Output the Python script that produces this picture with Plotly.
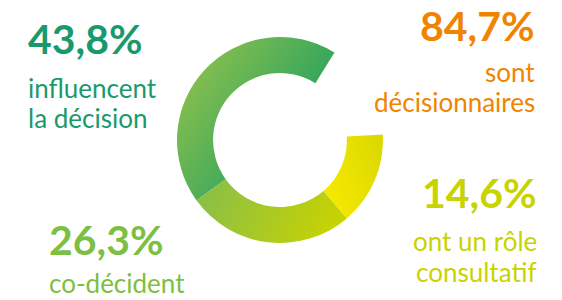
import plotly.graph_objects as go

# ---- data ----
segment_labels = ["ont un rôle consultatif", "co-décident", "influencent la décision", "autres"]
segment_values = [14.6, 26.3, 43.8, 15.3]

big_numbers = ["43,8%", "84,7%", "14,6%", "26,3%"]
captions = [["influencent", "la décision"], ["sont", "décisionnaires"],
            ["ont un rôle", "consultatif"], ["co-décident"]]

# ---- style ----
W, H = 562, 300
slice_colors = ["#ece200", "#a8c72c", "#58b155", "rgba(0,0,0,0)"]
text_colors = ["#199a6c", "#f08400", "#c8d300", "#7dbf42"]
FONT = "Lato, 'Open Sans', sans-serif"

cx, cy, R = 280, 140, 103

fig = go.Figure(go.Pie(
    labels=segment_labels,
    values=segment_values,
    sort=False,
    direction="clockwise",
    rotation=87,
    hole=0.65,
    textinfo="none",
    hoverinfo="skip",
    marker=dict(colors=slice_colors, line=dict(width=0)),
    domain=dict(x=[(cx - R) / W, (cx + R) / W], y=[1 - (cy + R) / H, 1 - (cy - R) / H]),
    showlegend=False,
))

def py(y):
    return 1 - y / H

# block layout: (anchor x px, xanchor, number center y, caption center ys)
blocks = [
    (26, "left", 38.5, [88, 118]),
    (537, "right", 25, [72, 102]),
    (539, "right", 192, [241, 272]),
    (47, "left", 239.5, [283]),
]

annotations = []
for i, (x, xa, ny, cys) in enumerate(blocks):
    annotations.append(dict(
        text="<b>%s</b>" % big_numbers[i], x=x / W, y=py(ny), xref="paper", yref="paper",
        xanchor=xa, yanchor="middle", showarrow=False,
        font=dict(family=FONT, size=41, color=text_colors[i])))
    for line, yy in zip(captions[i], cys):
        annotations.append(dict(
            text=line, x=x / W, y=py(yy), xref="paper", yref="paper",
            xanchor=xa, yanchor="middle", showarrow=False,
            font=dict(family=FONT, size=26, color=text_colors[i])))

fig.update_layout(
    width=W, height=H,
    margin=dict(l=0, r=0, t=0, b=0),
    paper_bgcolor="white", plot_bgcolor="white",
    annotations=annotations,
)

post = """
document.body.style.margin = '0';
document.body.style.overflow = 'hidden';
var gd = document.getElementById('{plot_id}');
function apply(){
  var svg = gd.querySelector('svg.main-svg');
  if(!svg) return;
  var ns = 'http://www.w3.org/2000/svg';
  var defs = svg.querySelector('defs#gradsx');
  if(!defs){
    defs = document.createElementNS(ns, 'defs'); defs.setAttribute('id','gradsx');
    svg.insertBefore(defs, svg.firstChild);
    var specs = [
      ['gY', 0, 0.75, 1, 0.25, [['0','#f8ea00'],['1','#dcd900']]],
      ['gL', 0, 0.3, 1, 0.5, [['0','#88bf48'],['1','#c9d300']]],
      ['gG', 0, 0.05, 1, 0.75, [['0','#9ac44a'],['1','#0e9b64']]]
    ];
    specs.forEach(function(s){
      var g = document.createElementNS(ns, 'linearGradient');
      g.setAttribute('id', s[0]);
      g.setAttribute('x1', s[1]); g.setAttribute('y1', s[2]);
      g.setAttribute('x2', s[3]); g.setAttribute('y2', s[4]);
      s[5].forEach(function(st){
        var e = document.createElementNS(ns, 'stop');
        e.setAttribute('offset', st[0]); e.setAttribute('stop-color', st[1]);
        g.appendChild(e);
      });
      defs.appendChild(g);
    });
  }
  var paths = gd.querySelectorAll('g.slice path.surface');
  var ids = ['gY','gL','gG'];
  for(var i=0;i<paths.length && i<3;i++){
    paths[i].style.fill = 'url(#' + ids[i] + ')';
  }
}
apply();
gd.on && gd.on('plotly_afterplot', apply);
"""

fig.write_html("out.html", post_script=post, config={"displayModeBar": False})
